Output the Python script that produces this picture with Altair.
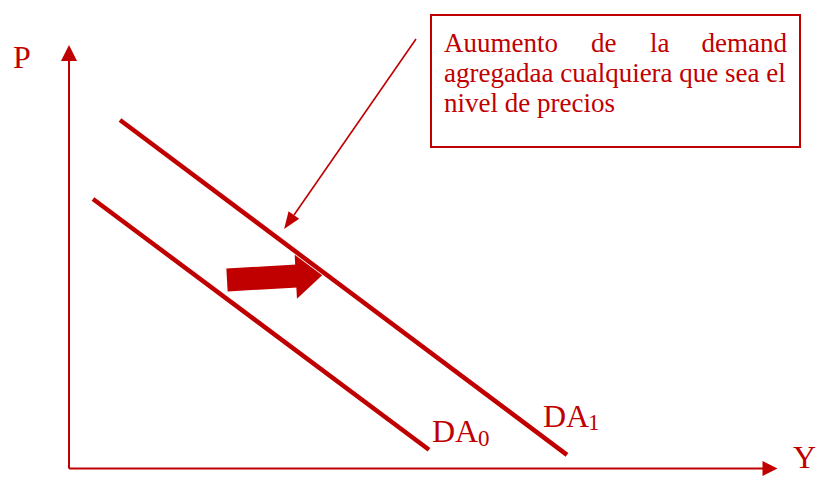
import altair as alt
import pandas as pd

RED = "#C00000"
FONT = "Liberation Serif"

# Coordinates in diagram units: origin at the intersection of the Y and P axes
# ---- aggregate demand curves ----
curve_names = ["DA0", "DA1"]
curve_y0 = [24, 51]
curve_p0 = [278, 357]
curve_y1 = [360, 498]
curve_p1 = [22, 16]

# ---- axes ----
axis_names = ["Y", "P"]
axis_y0 = [0, 0]
axis_p0 = [0, 0]
axis_y1 = [694, 0]
axis_p1 = [0, 416]
head_axis_y = [701, 0]
head_axis_p = [0, 424]

# ---- pointer arrow from annotation to DA1 ----
pointer_y = [347, 225]
pointer_p = [438, 262]
pointer_head_y = [220]
pointer_head_p = [255]

# ---- thick shift arrow ----
shift_y = [158, 228]
shift_p = [197, 201]
shift_head_y = [240]
shift_head_p = [201]

# ---- annotation box ----
box_y = [362, 731]
box_p = [462, 330]
line1_words = ["Auumento", "de", "la"]
line1_y = [375, 522, 581]
line1_last = "demand"
line1_last_y = 718
line1_p = 425
other_lines = ["agregadaa cualquiera que sea el", "nivel de precios"]
other_lines_p = [395, 365]
box_text_y = 375

# ---- labels ----
axis_labels = ["P", "Y"]
axis_label_y = [-56, 724]
axis_label_p = [409, 1]
da_main = ["DA", "DA"]
da_main_y = [363, 474]
da_main_p = [31, 49]
da_sub = ["0", "1"]
da_sub_y = [409, 519]
da_sub_p = [27, 45]

W, H = 810, 468
xs = alt.Scale(domain=[-61, 749], range=[0, W], nice=False, zero=False)
ys = alt.Scale(domain=[0, 57, 469], range=[460.5, 412, 0], nice=False, zero=False)


def X(f="x"):
    return alt.X(f + ":Q", scale=xs, axis=None)


def Y(f="y"):
    return alt.Y(f + ":Q", scale=ys, axis=None)


def segs(x0, y0, x1, y1):
    return pd.DataFrame({"x": x0, "y": y0, "x2": x1, "y2": y1})


curves = alt.Chart(segs(curve_y0, curve_p0, curve_y1, curve_p1)).mark_rule(
    color=RED, strokeWidth=4.5, strokeCap="butt"
).encode(x=X(), y=Y(), x2="x2:Q", y2="y2:Q")

axes = alt.Chart(segs(axis_y0, axis_p0, axis_y1, axis_p1)).mark_rule(
    color=RED, strokeWidth=2
).encode(x=X(), y=Y(), x2="x2:Q", y2="y2:Q")

x_head = alt.Chart(pd.DataFrame({"x": head_axis_y[:1], "y": head_axis_p[:1]})).mark_point(
    shape="M1,0L-1,-1L-1,1Z", size=225, filled=True, color=RED, opacity=1, strokeWidth=0
).encode(x=X(), y=Y())

y_head = alt.Chart(pd.DataFrame({"x": head_axis_y[1:], "y": head_axis_p[1:]})).mark_point(
    shape="M0,-1L-1,1L1,1Z", size=256, filled=True, color=RED, opacity=1, strokeWidth=0
).encode(x=X(), y=Y())

pointer = alt.Chart(segs(pointer_y[:1], pointer_p[:1], pointer_y[1:], pointer_p[1:])).mark_rule(
    color=RED, strokeWidth=1.6
).encode(x=X(), y=Y(), x2="x2:Q", y2="y2:Q")

pointer_head = alt.Chart(pd.DataFrame({"x": pointer_head_y, "y": pointer_head_p})).mark_point(
    shape="M0,-1L-0.76,1L0.76,1Z", size=289, angle=214.75, filled=True, color=RED,
    opacity=1, strokeWidth=0
).encode(x=X(), y=Y())

shift_body = alt.Chart(segs(shift_y[:1], shift_p[:1], shift_y[1:], shift_p[1:])).mark_rule(
    color=RED, strokeWidth=23, strokeCap="butt"
).encode(x=X(), y=Y(), x2="x2:Q", y2="y2:Q")

shift_head = alt.Chart(pd.DataFrame({"x": shift_head_y, "y": shift_head_p})).mark_point(
    shape="M0.6,0L-0.6,-1L-0.6,1Z", size=1936, angle=357, filled=True, color=RED,
    opacity=1, strokeWidth=0
).encode(x=X(), y=Y())

box = alt.Chart(pd.DataFrame({"x": box_y[:1], "x2": box_y[1:], "y": box_p[:1], "y2": box_p[1:]})).mark_rect(
    fill="white", stroke=RED, strokeWidth=2
).encode(x=X(), y=Y(), x2="x2:Q", y2="y2:Q")

left_text = pd.DataFrame({
    "t": line1_words + other_lines,
    "x": line1_y + [box_text_y] * len(other_lines),
    "y": [line1_p] * len(line1_words) + other_lines_p,
})
box_text = alt.Chart(left_text).mark_text(
    align="left", baseline="alphabetic", font=FONT, fontSize=27, color=RED
).encode(x=X(), y=Y(), text="t:N")

box_text_r = alt.Chart(pd.DataFrame({"t": [line1_last], "x": [line1_last_y], "y": [line1_p]})).mark_text(
    align="right", baseline="alphabetic", font=FONT, fontSize=27, color=RED
).encode(x=X(), y=Y(), text="t:N")

ax_labels = alt.Chart(pd.DataFrame({"t": axis_labels, "x": axis_label_y, "y": axis_label_p})).mark_text(
    align="left", baseline="alphabetic", font=FONT, fontSize=32, color=RED
).encode(x=X(), y=Y(), text="t:N")

da_labels = alt.Chart(pd.DataFrame({"t": da_main, "x": da_main_y, "y": da_main_p})).mark_text(
    align="left", baseline="alphabetic", font=FONT, fontSize=32, color=RED
).encode(x=X(), y=Y(), text="t:N")

da_subs = alt.Chart(pd.DataFrame({"t": da_sub, "x": da_sub_y, "y": da_sub_p})).mark_text(
    align="left", baseline="alphabetic", font=FONT, fontSize=23, color=RED
).encode(x=X(), y=Y(), text="t:N")

chart = alt.layer(
    axes, x_head, y_head, curves, shift_body, shift_head, box, box_text, box_text_r,
    pointer, pointer_head, ax_labels, da_labels, da_subs
).properties(
    width=W, height=H, padding=0, autosize=alt.AutoSizeParams(type="none"),
    background="white"
).configure_view(stroke=None)

chart.save("out.html", embed_options={"renderer": "svg", "actions": False})
